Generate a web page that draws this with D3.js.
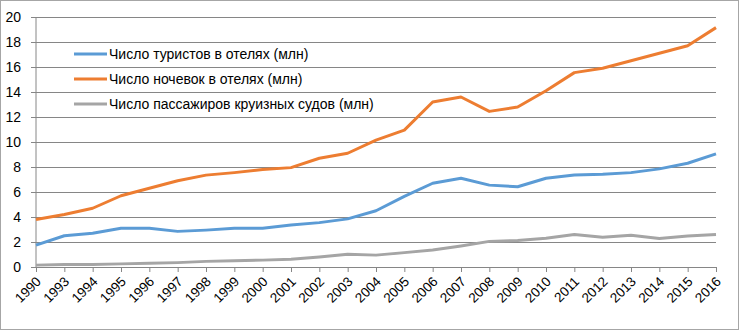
<!DOCTYPE html>
<html>
<head>
<meta charset="utf-8">
<script src="https://cdn.jsdelivr.net/npm/d3@7"></script>
<style>
  body { margin: 0; background: #fff; }
  svg { display: block; }
</style>
</head>
<body>
<div id="chart"></div>
<script>
// categories (first gap 1990 -> 1993 is shown as one step)
const years = ["1990", "1993", "1994", "1995", "1996", "1997", "1998", "1999", "2000",
  "2001", "2002", "2003", "2004", "2005", "2006", "2007", "2008", "2009", "2010",
  "2011", "2012", "2013", "2014", "2015", "2016"];

const tourists = [1.75, 2.5, 2.7, 3.1, 3.1, 2.85, 2.95, 3.1, 3.1,
  3.36, 3.55, 3.85, 4.5, 5.65, 6.7, 7.1, 6.55, 6.42, 7.1,
  7.36, 7.42, 7.55, 7.85, 8.3, 9.05];

const nights = [3.8, 4.2, 4.7, 5.7, 6.3, 6.9, 7.35, 7.55, 7.8,
  7.95, 8.7, 9.1, 10.15, 10.95, 13.2, 13.6, 12.45, 12.8, 14.1,
  15.55, 15.9, 16.5, 17.1, 17.7, 19.15];

const cruise = [0.15, 0.2, 0.2, 0.25, 0.3, 0.35, 0.45, 0.5, 0.55,
  0.62, 0.8, 1.02, 0.95, 1.15, 1.36, 1.68, 2.05, 2.12, 2.3,
  2.6, 2.38, 2.54, 2.28, 2.48, 2.6];

const seriesNames = ["Число туристов в отелях (млн)", "Число ночевок в отелях (млн)",
  "Число пассажиров круизных судов (млн)"];
const seriesColors = ["#5B9BD5", "#ED7D31", "#A5A5A5"];
const yTicks = [0, 2, 4, 6, 8, 10, 12, 14, 16, 18, 20];

const width = 739, height = 330;
const margin = { top: 17, right: 23, bottom: 63, left: 36 };

const svg = d3.select("#chart").append("svg")
  .attr("width", width)
  .attr("height", height)
  .attr("font-family", "'Liberation Sans', Arial, sans-serif");

// outer border
svg.append("rect")
  .attr("x", 0.5).attr("y", 0.5)
  .attr("width", width - 1).attr("height", height - 1)
  .attr("fill", "#fff")
  .attr("stroke", "#a6a6a6");

const x = d3.scalePoint()
  .domain(years)
  .range([margin.left, width - margin.right]);

const y = d3.scaleLinear()
  .domain([0, 20])
  .range([height - margin.bottom, margin.top]);

// gridlines + y labels
const yAxis = svg.append("g")
  .attr("transform", `translate(${margin.left},0)`)
  .call(d3.axisLeft(y).tickValues(yTicks).tickSize(-(width - margin.left - margin.right)).tickSizeOuter(0).tickPadding(15));
yAxis.select(".domain").remove();
yAxis.selectAll(".tick line")
  .attr("stroke", "#868686")
  .attr("x1", -5);
yAxis.selectAll(".tick text")
  .attr("font-size", 14)
  .attr("fill", "#000");

// left axis line
svg.append("line")
  .attr("x1", margin.left).attr("x2", margin.left)
  .attr("y1", y(20)).attr("y2", y(0))
  .attr("stroke", "#868686");

// x axis
const xAxis = svg.append("g")
  .attr("transform", `translate(0,${y(0)})`)
  .call(d3.axisBottom(x).tickSize(5).tickSizeOuter(0));
xAxis.select(".domain").attr("stroke", "#868686");
xAxis.selectAll(".tick line").attr("stroke", "#868686");
xAxis.selectAll(".tick text")
  .attr("font-size", 13.5)
  .attr("fill", "#000")
  .attr("text-anchor", "end")
  .attr("x", 0)
  .attr("y", 0)
  .attr("dy", "0.35em")
  .attr("transform", "translate(2,12) rotate(-45)");

// lines
const line = d3.line()
  .x((d, i) => x(years[i]))
  .y(d => y(d));

[tourists, nights, cruise].forEach((vals, k) => {
  svg.append("path")
    .datum(vals)
    .attr("fill", "none")
    .attr("stroke", seriesColors[k])
    .attr("stroke-width", 3)
    .attr("stroke-linejoin", "round")
    .attr("d", line);
});

// legend
const legend = svg.append("g").attr("transform", "translate(74,54)");
seriesNames.forEach((name, k) => {
  const g = legend.append("g").attr("transform", `translate(0,${k * 25})`);
  g.append("line")
    .attr("x1", 0).attr("x2", 33)
    .attr("stroke", seriesColors[k])
    .attr("stroke-width", 3);
  g.append("text")
    .attr("x", 35)
    .attr("dy", "0.35em")
    .attr("font-size", 14)
    .attr("fill", "#000")
    .text(name);
});
</script>
</body>
</html>
